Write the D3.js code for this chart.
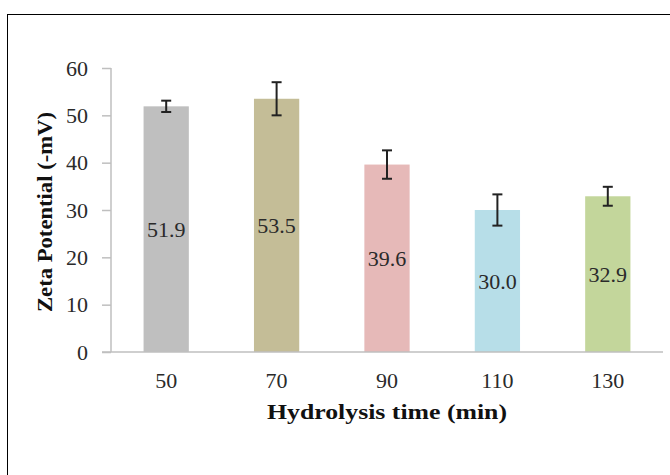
<!DOCTYPE html>
<html>
<head>
<meta charset="utf-8">
<script src="https://cdnjs.cloudflare.com/ajax/libs/d3/7.8.5/d3.min.js"></script>
<style>
  body { margin: 0; background: #fff; }
  svg { display: block; }
</style>
</head>
<body>
<svg id="chart" width="670" height="475"></svg>
<script>
"use strict";

// hydrolysis time categories (min)
var categories = ["50", "70", "90", "110", "130"];
// zeta potential (-mV)
var values = [51.9, 53.5, 39.6, 30.0, 32.9];
// error bar half-widths
var errors = [1.2, 3.5, 3.0, 3.3, 2.0];
var barColors = ["#bfbfbf", "#c4bd97", "#e6b9b8", "#b7dee8", "#c3d69b"];
var yTicks = [0, 10, 20, 30, 40, 50, 60];

var serif = "'Liberation Serif', 'Times New Roman', serif";
var svg = d3.select("#chart");

// outer frame
svg.append("rect")
  .attr("x", 7.5).attr("y", 14.5)
  .attr("width", 700).attr("height", 500)
  .attr("fill", "none")
  .attr("stroke", "#000")
  .attr("stroke-width", 1);

var plotLeft = 111, plotRight = 663, plotTop = 68, plotBottom = 352;

var x = d3.scaleBand()
  .domain(categories)
  .range([plotLeft, plotRight])
  .paddingInner(0.59)
  .paddingOuter(0.295);

var y = d3.scaleLinear()
  .domain([0, 60])
  .range([plotBottom, plotTop]);

// y axis
var yAxis = svg.append("g")
  .attr("transform", "translate(" + plotLeft + ",0)")
  .call(d3.axisLeft(y).tickValues(yTicks).tickSize(9).tickPadding(14));
yAxis.attr("font-family", serif).attr("font-size", 22);
yAxis.selectAll(".tick text").attr("fill", "#2a2a2a");
yAxis.select(".domain").attr("stroke", "#bfbfbf").attr("stroke-width", 1.5)
  .attr("d", "M0," + plotTop + "V" + plotBottom);
yAxis.selectAll(".tick line").attr("stroke", "#bfbfbf").attr("stroke-width", 1.5);

// bars
svg.append("g")
  .selectAll("rect")
  .data(values)
  .join("rect")
  .attr("x", function(d, i) { return x(categories[i]); })
  .attr("y", function(d) { return y(d); })
  .attr("width", x.bandwidth())
  .attr("height", function(d) { return y(0) - y(d); })
  .attr("fill", function(d, i) { return barColors[i]; });

// x axis
var xAxis = svg.append("g")
  .attr("transform", "translate(0," + plotBottom + ")")
  .call(d3.axisBottom(x).tickSize(0).tickPadding(20));
xAxis.attr("font-family", serif).attr("font-size", 22);
xAxis.selectAll(".tick text").attr("fill", "#2a2a2a");
xAxis.select(".domain").attr("stroke", "#bfbfbf").attr("stroke-width", 1.5)
  .attr("d", "M" + (plotLeft - 9) + ",0H" + plotRight);

// error bars
var eb = svg.append("g")
  .selectAll("g")
  .data(values)
  .join("g")
  .attr("stroke", "#222")
  .attr("stroke-width", 2);
eb.append("line")
  .attr("x1", function(d, i) { return x(categories[i]) + x.bandwidth() / 2; })
  .attr("x2", function(d, i) { return x(categories[i]) + x.bandwidth() / 2; })
  .attr("y1", function(d, i) { return y(d + errors[i]); })
  .attr("y2", function(d, i) { return y(d - errors[i]); });
[1, -1].forEach(function(s) {
  eb.append("line")
    .attr("x1", function(d, i) { return x(categories[i]) + x.bandwidth() / 2 - 5; })
    .attr("x2", function(d, i) { return x(categories[i]) + x.bandwidth() / 2 + 5; })
    .attr("y1", function(d, i) { return y(d + s * errors[i]); })
    .attr("y2", function(d, i) { return y(d + s * errors[i]); });
});

// value labels in the middle of each bar
svg.append("g")
  .selectAll("text")
  .data(values)
  .join("text")
  .attr("x", function(d, i) { return x(categories[i]) + x.bandwidth() / 2; })
  .attr("y", function(d) { return y(d / 2); })
  .attr("dy", "0.35em")
  .attr("text-anchor", "middle")
  .attr("font-family", serif)
  .attr("font-size", 22)
  .attr("fill", "#2a2a2a")
  .text(function(d) { return d.toFixed(1); });

// axis titles
svg.append("text")
  .attr("x", 387)
  .attr("y", 419)
  .attr("text-anchor", "middle")
  .attr("font-family", serif)
  .attr("font-weight", "bold")
  .attr("font-size", 22)
  .attr("textLength", 240)
  .attr("lengthAdjust", "spacingAndGlyphs")
  .attr("fill", "#111")
  .text("Hydrolysis time (min)");

svg.append("text")
  .attr("transform", "translate(52,212) rotate(-90)")
  .attr("text-anchor", "middle")
  .attr("font-family", serif)
  .attr("font-weight", "bold")
  .attr("font-size", 22)
  .attr("textLength", 200)
  .attr("lengthAdjust", "spacingAndGlyphs")
  .attr("fill", "#111")
  .text("Zeta Potential (-mV)");
</script>
</body>
</html>
